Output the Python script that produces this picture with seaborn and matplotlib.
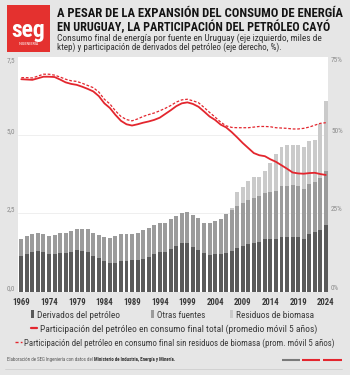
import numpy as np
import pandas as pd
import matplotlib
matplotlib.use("Agg")
import matplotlib.pyplot as plt
import seaborn as sns
from matplotlib import font_manager as fm
from matplotlib.patches import Rectangle
from matplotlib.lines import Line2D

# ---------------- data ----------------
years = list(range(1969, 2025))
petroleo = [1.13, 1.20, 1.26, 1.29, 1.27, 1.20, 1.20, 1.25, 1.24, 1.27,
            1.34, 1.31, 1.26, 1.13, 1.08, 0.99, 0.91, 0.91, 0.97, 0.99,
            1.01, 1.02, 1.05, 1.12, 1.19, 1.26, 1.27, 1.38, 1.47, 1.55,
            1.56, 1.42, 1.33, 1.24, 1.17, 1.19, 1.22, 1.24, 1.30, 1.40,
            1.47, 1.51, 1.56, 1.58, 1.67, 1.67, 1.67, 1.74, 1.74, 1.75,
            1.75, 1.67, 1.83, 1.91, 1.97, 2.13]
sin_biomasa = [1.69, 1.77, 1.83, 1.86, 1.84, 1.77, 1.80, 1.86, 1.88, 1.94,
               2.01, 2.01, 2.01, 1.86, 1.82, 1.74, 1.71, 1.77, 1.85, 1.85,
               1.85, 1.86, 1.96, 2.04, 2.13, 2.19, 2.20, 2.31, 2.42, 2.50,
               2.55, 2.45, 2.36, 2.21, 2.18, 2.27, 2.32, 2.49, 2.62, 2.75,
               2.84, 2.92, 3.01, 3.06, 3.17, 3.19, 3.23, 3.39, 3.37, 3.41,
               3.39, 3.28, 3.44, 3.52, 3.63, 3.87]
total = [1.69, 1.77, 1.83, 1.86, 1.84, 1.77, 1.80, 1.86, 1.88, 1.94,
         2.01, 2.01, 2.01, 1.86, 1.82, 1.74, 1.71, 1.77, 1.85, 1.85,
         1.85, 1.86, 1.96, 2.04, 2.13, 2.19, 2.20, 2.31, 2.42, 2.50,
         2.55, 2.45, 2.36, 2.21, 2.18, 2.27, 2.32, 2.49, 2.69, 3.18,
         3.34, 3.53, 3.65, 3.66, 3.86, 4.11, 4.41, 4.63, 4.68, 4.70,
         4.70, 4.62, 4.83, 4.85, 5.35, 6.10]
part_total = [67.9, 67.8, 67.7, 68.2, 68.7, 68.7, 68.6, 67.8, 66.9, 66.4,
              66.1, 65.5, 64.8, 64.0, 62.5, 60.2, 58.7, 56.5, 54.6, 53.5,
              53.1, 53.5, 54.0, 54.4, 54.9, 55.6, 56.8, 58.0, 59.3, 60.2,
              60.5, 60.0, 59.1, 57.6, 56.0, 54.9, 53.4, 52.5, 51.0, 49.3,
              47.5, 45.9, 44.3, 43.6, 43.3, 42.3, 41.5, 40.4, 39.3, 38.1,
              37.8, 37.7, 37.9, 38.0, 37.6, 37.3]
part_sin_biomasa = [68.4, 68.4, 68.3, 68.9, 69.5, 69.5, 69.2, 68.6, 67.9, 67.4,
                    67.2, 66.6, 65.9, 65.2, 63.8, 61.5, 60.0, 57.8, 56.0, 55.0,
                    54.6, 55.2, 56.0, 56.6, 57.1, 57.8, 58.6, 59.5, 60.6, 61.3,
                    61.5, 61.0, 60.4, 58.9, 57.3, 55.8, 54.2, 53.0, 52.5, 52.4,
                    52.4, 52.4, 52.6, 52.8, 52.8, 52.7, 52.4, 52.3, 52.2, 52.0,
                    52.0, 52.2, 52.6, 53.2, 53.8, 54.0]
xtick_years = list(range(1969, 2025, 5))
left_ticks = [0, 2.5, 5.0, 7.5]
left_labels = ["0,0", "2,5", "5,0", "7,5"]
right_ticks = [0, 25, 50, 75]
right_labels = ["0%", "25%", "50%", "75%"]
title_lines = ["A PESAR DE LA EXPANSIÓN DEL CONSUMO DE ENERGÍA",
               "EN URUGUAY, LA PARTICIPACIÓN DEL PETRÓLEO CAYÓ"]
subtitle_lines = ["Consumo final de energía por fuente en Uruguay (eje izquierdo, miles de",
                  "ktep) y participación de derivados del petróleo (eje derecho, %)."]
legend_bars = ["Derivados del petróleo", "Otras fuentes", "Residuos de biomasa"]
legend_lines = ["Participación del petróleo en consumo final total (promedio móvil 5 años)",
                "Participación del petróleo en consumo final sin residuos de biomasa (prom. móvil 5 años)"]
footer_regular = "Elaboración de SEG Ingeniería con datos del "
footer_bold = "Ministerio de Industria, Energía y Minería"

df = pd.DataFrame({"year": years, "petroleo": petroleo, "sin_biomasa": sin_biomasa,
                   "total": total, "part_total": part_total,
                   "part_sin_biomasa": part_sin_biomasa})

# ---------------- style ----------------
sns.set_theme(style="white")
names = {f.name for f in fm.fontManager.ttflist}
def pick(*cands):
    for c in cands:
        if c in names:
            return c
    return "DejaVu Sans"
COND = pick("Roboto Condensed", "Liberation Sans Narrow", "Open Sans Condensed", "Roboto")
NARROW = pick("Liberation Sans Narrow", "Roboto Condensed", "Roboto")
plt.rcParams["font.family"] = [NARROW, "DejaVu Sans"]

BG = "#e6e6e6"
RED = "#e3262e"
C_DARK = "#5a5a5a"
C_MED = "#9b9b9b"
C_LIGHT = "#cacaca"

W, H = 350, 375
fig = plt.figure(figsize=(W / 100, H / 100), dpi=100)
fig.patch.set_facecolor(BG)

def fx(x):
    return x / W
def fy(y):
    return 1 - y / H

ax_l, ax_r, ax_t, ax_b = 18, 328, 57, 291.7
ax = fig.add_axes([fx(ax_l), fy(ax_b), (ax_r - ax_l) / W, (ax_b - ax_t) / H])
ax.set_facecolor("white")

sns.barplot(data=df, x="year", y="total", native_scale=True, color=C_LIGHT,
            width=0.72, saturation=1, linewidth=0, errorbar=None, ax=ax, zorder=2)
sns.barplot(data=df, x="year", y="sin_biomasa", native_scale=True, color=C_MED,
            width=0.72, saturation=1, linewidth=0, errorbar=None, ax=ax, zorder=2)
sns.barplot(data=df, x="year", y="petroleo", native_scale=True, color=C_DARK,
            width=0.72, saturation=1, linewidth=0, errorbar=None, ax=ax, zorder=2)

ax.set_xlim(1968.4, 2024.4)
ax.set_ylim(0, 7.5)
ax.set_xlabel("")
ax.set_ylabel("")
ax.set_axisbelow(True)
ax.grid(False)
for v in left_ticks[1:3]:
    ax.axhline(v, color="#ededed", lw=0.6, zorder=0)
for s in ax.spines.values():
    s.set_visible(False)
ax.set_xticks(xtick_years)
ax.set_xticklabels([str(y) for y in xtick_years])
ax.tick_params(axis="x", length=0, pad=4.2, labelsize=6.3, labelcolor="#3a3a3a")
for lbl in ax.get_xticklabels():
    lbl.set_fontweight("bold")
    lbl.set_family([NARROW, "DejaVu Sans"])
ax.set_yticks(left_ticks)
ax.set_yticklabels(left_labels)
ax.tick_params(axis="y", length=0, pad=2.0, labelsize=5.2, labelcolor="#8c8c8c")

ax2 = ax.twinx()
sns.lineplot(data=df, x="year", y="part_total", color=RED, linewidth=1.3, ax=ax2, zorder=4)
sns.lineplot(data=df, x="year", y="part_sin_biomasa", color=RED, linewidth=0.9,
             linestyle=(0, (2.2, 1.4)), ax=ax2, zorder=4)
ax2.set_ylim(0, 75)
ax2.set_xlim(1968.4, 2024.4)
ax2.set_xlabel("")
ax2.set_ylabel("")
ax2.grid(False)
for s in ax2.spines.values():
    s.set_visible(False)
ax2.set_yticks(right_ticks)
ax2.set_yticklabels(right_labels)
ax2.tick_params(axis="y", length=0, pad=2.2, labelsize=5.2, labelcolor="#8c8c8c")

for axis_labels in (ax.get_yticklabels(), ax2.get_yticklabels()):
    for i, lbl in enumerate(axis_labels):
        lbl.set_va("top" if i == len(axis_labels) - 1 else "bottom")

# ---------------- texts ----------------
renderer = fig.canvas.get_renderer()
def fit_text(x, y, s, width, size0=8, **kw):
    t = fig.text(fx(x), fy(y), s, fontsize=size0, **kw)
    w = t.get_window_extent(renderer).width
    t.set_fontsize(size0 * width / w)
    return t

# logo
fig.add_artist(Rectangle((fx(7), fy(52)), 43 / W, 47 / H, transform=fig.transFigure,
                         facecolor="#e4312f", edgecolor="none"))
fit_text(28.5, 37, "seg", 34, family=[COND, "DejaVu Sans"], fontweight="bold",
         color="white", ha="center", va="baseline")
fit_text(28.5, 45, "INGENIERÍA", 20, family=[COND, "DejaVu Sans"], color="white",
         ha="center", va="baseline")

fit_text(57, 17.2, title_lines[0], 285, family=[COND, "DejaVu Sans"], fontweight="bold",
         color="#141414", va="baseline")
fit_text(57, 31.2, title_lines[1], 272, family=[COND, "DejaVu Sans"], fontweight="bold",
         color="#141414", va="baseline")
fit_text(57, 40.7, subtitle_lines[0], 265, family=[NARROW, "DejaVu Sans"],
         color="#333333", va="baseline")
fit_text(57, 50.0, subtitle_lines[1], 224, family=[NARROW, "DejaVu Sans"],
         color="#333333", va="baseline")

# legend row 1 (bars)
bar_leg = [(31, 37, 83, C_DARK), (151, 157, 48, C_MED), (230, 236, 79, C_LIGHT)]
for (mx, tx, tw, col), lab in zip(bar_leg, legend_bars):
    fig.add_artist(Rectangle((fx(mx), fy(317.5)), 3.2 / W, 7.5 / H,
                             transform=fig.transFigure, facecolor=col, edgecolor="none"))
    fit_text(tx, 317.5, lab, tw, family=[NARROW, "DejaVu Sans"], color="#3a3a3a",
             va="baseline")

# legend rows 2-3 (lines)
fig.add_artist(Line2D([fx(31), fx(37)], [fy(327.5), fy(327.5)], transform=fig.transFigure,
                      color=RED, lw=1.6))
fit_text(39.5, 331.5, legend_lines[0], 276, family=[NARROW, "DejaVu Sans"], color="#3a3a3a",
         va="baseline")
fig.add_artist(Line2D([fx(15), fx(21.5)], [fy(341.8), fy(341.8)], transform=fig.transFigure,
                      color=RED, lw=1.0, linestyle=(0, (2.2, 1.6))))
fit_text(24, 345.5, legend_lines[1], 311, family=[NARROW, "DejaVu Sans"], color="#3a3a3a",
         va="baseline")

# footer
t1 = fit_text(7, 360.5, footer_regular, 87, family=[NARROW, "DejaVu Sans"], color="#555555",
              va="baseline")
fs = t1.get_fontsize()
bb = t1.get_window_extent(renderer)
x_bold = bb.x1 / fig.dpi * 100 * (W / (fig.get_figwidth() * 100))
t2 = fig.text(fx(x_bold), fy(360.5), footer_bold + ".", fontsize=fs, fontweight="bold",
              family=[NARROW, "DejaVu Sans"], color="#333333", va="baseline")
for (x0, x1, col) in [(282, 300, "#7a7a7a"), (302, 320, RED), (323, 342, RED)]:
    fig.add_artist(Line2D([fx(x0), fx(x1)], [fy(360), fy(360)], transform=fig.transFigure,
                          color=col, lw=1.5, solid_capstyle="butt"))
fig.add_artist(Line2D([fx(5), fx(342)], [fy(369), fy(369)], transform=fig.transFigure,
                      color="#cfcfcf", lw=0.6))

fig.savefig("out.png", dpi=100, facecolor=BG)
